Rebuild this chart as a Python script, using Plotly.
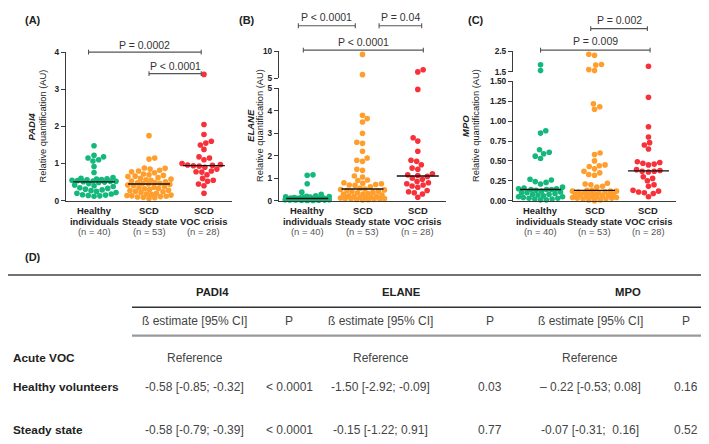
import numpy as np
import plotly.graph_objects as go

W, H = 709, 444
FONT = "Arial, Liberation Sans, Helvetica, sans-serif"

# ---------------- data ----------------
group_line1 = ["Healthy", "SCD", "SCD"]
group_line2 = ["individuals", "Steady state", "VOC crisis"]
group_n = [40, 53, 28]
colors = ["#14B87C", "#FF9E2C", "#F7303A"]

padi4_healthy = [1.48, 1.22, 1.18, 1.15, 1.10, 1.07, 0.92, 0.76, 0.62, 0.60,
                 0.59, 0.58, 0.57, 0.56, 0.55, 0.54, 0.53, 0.52, 0.52, 0.51,
                 0.50, 0.49, 0.46, 0.42, 0.40, 0.38, 0.35, 0.33, 0.31, 0.29,
                 0.27, 0.25, 0.22, 0.20, 0.18, 0.16, 0.15, 0.14, 0.13, 0.12]
padi4_steady = [1.75, 1.15, 1.12, 0.88, 0.87, 0.85, 0.82, 0.80, 0.78, 0.75,
                0.72, 0.70, 0.68, 0.66, 0.65, 0.62, 0.60, 0.58, 0.56, 0.55,
                0.53, 0.51, 0.49, 0.48, 0.47, 0.46, 0.45, 0.44, 0.42, 0.40,
                0.38, 0.36, 0.35, 0.33, 0.32, 0.30, 0.28, 0.27, 0.25, 0.24,
                0.22, 0.20, 0.18, 0.17, 0.15, 0.14, 0.13, 0.12, 0.11, 0.10,
                0.09, 0.08, 0.06]
padi4_voc = [3.40, 2.05, 1.78, 1.60, 1.55, 1.50, 1.38, 1.18, 1.15, 1.10,
             1.00, 0.97, 0.96, 0.95, 0.94, 0.93, 0.90, 0.85, 0.80, 0.78,
             0.77, 0.70, 0.60, 0.55, 0.52, 0.45, 0.40, 0.20]

elane_healthy = [1.15, 1.13, 0.75, 0.38, 0.28, 0.22, 0.20, 0.18, 0.17, 0.16,
                 0.15, 0.14, 0.13, 0.12, 0.12, 0.11, 0.11, 0.10, 0.10, 0.10,
                 0.09, 0.09, 0.08, 0.08, 0.07, 0.07, 0.06, 0.06, 0.05, 0.05,
                 0.05, 0.04, 0.04, 0.03, 0.03, 0.03, 0.02, 0.02, 0.01, 0.01]
elane_steady = [9.40, 5.70, 3.80, 3.65, 3.50, 3.00, 2.60, 2.55, 2.20, 1.90,
                1.80, 1.75, 1.40, 1.35, 1.10, 1.05, 0.92, 0.90, 0.80, 0.77,
                0.75, 0.72, 0.70, 0.68, 0.62, 0.55, 0.52, 0.50, 0.48, 0.45,
                0.42, 0.40, 0.38, 0.35, 0.32, 0.30, 0.28, 0.25, 0.22, 0.20,
                0.18, 0.16, 0.15, 0.13, 0.12, 0.10, 0.09, 0.08, 0.07, 0.06,
                0.05, 0.04, 0.03]
elane_voc = [6.60, 6.20, 4.95, 2.80, 2.65, 2.20, 1.80, 1.75, 1.60, 1.45,
             1.40, 1.20, 1.15, 1.12, 1.08, 1.00, 0.95, 0.85, 0.80, 0.75,
             0.70, 0.65, 0.60, 0.45, 0.40, 0.35, 0.30, 0.15]

mpo_healthy = [1.83, 1.55, 0.88, 0.85, 0.64, 0.61, 0.59, 0.56, 0.53, 0.27,
               0.26, 0.24, 0.23, 0.21, 0.17, 0.16, 0.15, 0.15, 0.14, 0.14,
               0.14, 0.13, 0.12, 0.11, 0.10, 0.10, 0.09, 0.08, 0.08, 0.07,
               0.06, 0.05, 0.05, 0.04, 0.03, 0.03, 0.02, 0.02, 0.01, 0.01]
mpo_steady = [2.35, 2.30, 1.85, 1.82, 1.60, 1.55, 1.22, 1.18, 1.15, 0.60,
              0.58, 0.50, 0.45, 0.44, 0.43, 0.40, 0.37, 0.35, 0.33, 0.32,
              0.22, 0.21, 0.20, 0.18, 0.17, 0.13, 0.13, 0.12, 0.12, 0.12,
              0.11, 0.11, 0.10, 0.10, 0.09, 0.09, 0.08, 0.08, 0.07, 0.07,
              0.06, 0.06, 0.05, 0.05, 0.04, 0.04, 0.03, 0.03, 0.02, 0.02,
              0.01, 0.01, 0.00]
mpo_voc = [1.76, 1.30, 0.93, 0.80, 0.73, 0.70, 0.65, 0.49, 0.48, 0.47,
           0.46, 0.45, 0.39, 0.38, 0.37, 0.37, 0.36, 0.30, 0.28, 0.25,
           0.20, 0.18, 0.13, 0.12, 0.11, 0.10, 0.09, 0.05]

padi4_ticks = [0, 1, 2, 3, 4]
elane_ticks_low = [0, 1, 2, 3, 4, 5]
elane_ticks_high = [5, 10]
mpo_ticks_low = [0.00, 0.25, 0.50, 0.75, 1.00, 1.25, 1.50]
mpo_ticks_high = [1.5, 2.5]

# brackets: (x_from, x_to, label) in category units
padi4_brackets = [(-0.1, 1.95, "P = 0.0002"), (1.0, 1.95, "P < 0.0001")]
elane_brackets = [(-0.16, 0.87, "P < 0.0001"), (1.3, 2.07, "P = 0.04"),
                  (-0.07, 2.1, "P < 0.0001")]
mpo_brackets = [(0.93, 1.98, "P = 0.002"), (0.0, 2.03, "P = 0.009")]

# table
tbl_genes = ["PADI4", "ELANE", "MPO"]
tbl_sub = ["ß estimate [95% CI]", "P"]
tbl_rows = ["Acute VOC", "Healthy volunteers", "Steady state"]
tbl_est_healthy = ["-0.58 [-0.85; -0.32]", "-1.50 [-2.92; -0.09]", "\u2013 0.22 [-0.53; 0.08]"]
tbl_p_healthy = ["< 0.0001", "0.03", "0.16"]
tbl_est_steady = ["-0.58 [-0.79; -0.39]", "-0.15 [-1.22; 0.91]", "-0.07 [-0.31;  0.16]"]
tbl_p_steady = ["< 0.0001", "0.77", "0.52"]
tbl_ref = "Reference"

# ---------------- layout geometry (pixels) ----------------
def xp(px):
    return px / W


def yp(py):
    return 1 - py / H


XR = [-0.51, 2.51]
panels = [
    dict(key="A", x0=58, x1=224, segs=[(0, 4, 192, 40)],
         data=[padi4_healthy, padi4_steady, padi4_voc], gene="PADI4",
         ticks=[padi4_ticks], fmt=["d"], brackets=padi4_brackets,
         bpos=[(40, 33), (62, 54)], gx=23, rx=35, lx=25),
    dict(key="B", x0=271, x1=438, segs=[(0, 5, 192, 77), (5, 10, 67, 39)],
         data=[elane_healthy, elane_steady, elane_voc], gene="ELANE",
         ticks=[elane_ticks_low, elane_ticks_high], fmt=["d", "d"], brackets=elane_brackets,
         bpos=[(13, 4), (13, 4), (38, 30)], gx=243, rx=252, lx=239),
    dict(key="C", x0=505, x1=668, segs=[(0, 1.5, 192, 70), (1.5, 2.5, 60, 39)],
         data=[mpo_healthy, mpo_steady, mpo_voc], gene="MPO",
         ticks=[mpo_ticks_low, mpo_ticks_high], fmt=[".2f", ".1f"], brackets=mpo_brackets,
         bpos=[(16, 7), (38, 29)], gx=458, rx=468, lx=468),
]


def to_px(v, segs):
    for i, (lo, hi, pb, pt) in enumerate(segs):
        if v <= hi or i == len(segs) - 1:
            return pb - (v - lo) / (hi - lo) * (pb - pt), i
    return None


def swarm(ypix, diam, maxhw):
    """beeswarm offsets (pixels), limited to +-maxhw; overlaps allowed when crowded"""
    n = len(ypix)
    order = np.argsort(ypix, kind="stable")
    px_l, py_l = [], []
    off = np.zeros(n)
    flip = 1
    grid = np.arange(-maxhw, maxhw + 0.01, 0.5)
    for idx in order:
        y = ypix[idx]
        iv = []
        near = []
        for a, b in zip(px_l, py_l):
            dy = abs(y - b)
            if dy < 2 * diam:
                near.append((a, b))
            if dy < diam:
                dx = np.sqrt(diam ** 2 - dy ** 2)
                iv.append((a - dx, a + dx))
        cands = [0.0] + [q for ab in iv for q in ab]
        cands = [c for c in cands if abs(c) <= maxhw + 1e-6]
        cands.sort(key=lambda c: (round(abs(c), 6), flip * c))
        chosen = None
        for c in cands:
            if all(not (a + 1e-6 < c < b - 1e-6) for a, b in iv):
                chosen = c
                break
        if chosen is None:
            best, bestd = 0.0, -1
            for c in grid:
                d = min(np.hypot(c - a, y - b) for a, b in near)
                score = d - 0.02 * abs(c)
                if score > bestd:
                    bestd, best = score, c
            chosen = best
        off[idx] = chosen
        px_l.append(chosen)
        py_l.append(y)
        flip = -flip
    return off


fig = go.Figure()
layout = dict(width=W, height=H, margin=dict(l=0, r=0, t=0, b=0),
              paper_bgcolor="white", plot_bgcolor="white", showlegend=False,
              font=dict(family=FONT, color="#222"))
shapes, annos = [], []
AXC = "#3a3a3a"
ycount = 0

for pi, p in enumerate(panels):
    xi = pi + 1
    xname = "xaxis" if xi == 1 else f"xaxis{xi}"
    xref = "x" if xi == 1 else f"x{xi}"
    ppu = (p["x1"] - p["x0"]) / (XR[1] - XR[0])
    yrefs = []
    for si, (lo, hi, pb, pt) in enumerate(p["segs"]):
        ycount += 1
        yname = "yaxis" if ycount == 1 else f"yaxis{ycount}"
        yref = "y" if ycount == 1 else f"y{ycount}"
        yrefs.append(yref)
        tv = p["ticks"][si]
        layout[yname] = dict(domain=[yp(pb), yp(pt)], range=[lo, hi], anchor=xref,
                             tickvals=tv, ticktext=[format(v, p["fmt"][si]) for v in tv],
                             ticks="outside", ticklen=4, tickwidth=1.3, tickcolor=AXC,
                             showline=True, linecolor=AXC, linewidth=1.3,
                             showgrid=False, zeroline=False,
                             tickfont=dict(size=8.3, weight="bold", color="#222"))
    layout[xname] = dict(domain=[xp(p["x0"]), xp(p["x1"])], range=XR, anchor=yrefs[0],
                         showticklabels=False, ticks="", showline=True, linecolor=AXC,
                         linewidth=1.3, showgrid=False, zeroline=False)
    # category labels
    for gi in range(3):
        for txt_, py_, bold, col in ((group_line1[gi], 202, True, "#222"),
                                     (group_line2[gi], 213, True, "#222"),
                                     (f"(n = {group_n[gi]})", 223.5, False, "#555")):
            annos.append(dict(text=f"<b>{txt_}</b>" if bold else txt_, xref=xref, yref="paper",
                              x=gi, y=yp(py_), showarrow=False, xanchor="center",
                              yanchor="middle", font=dict(size=9.4, color=col)))
    # points
    for gi, vals in enumerate(p["data"]):
        vals = np.array(vals, dtype=float)
        pix = [to_px(v, p["segs"]) for v in vals]
        ypx = np.array([-q[0] for q in pix])
        seg = np.array([q[1] for q in pix])
        off = swarm(ypx, 5.8, 22.0)
        xs = gi + off / ppu
        for si in range(len(p["segs"])):
            m = seg == si
            if m.any():
                fig.add_trace(go.Scatter(x=xs[m], y=vals[m], mode="markers",
                                         xaxis=xref, yaxis=yrefs[si], cliponaxis=False,
                                         marker=dict(size=5.6, color=colors[gi], line=dict(width=0)),
                                         hoverinfo="skip"))
        med = float(np.median(vals))
        fig.add_trace(go.Scatter(x=[gi - 0.38, gi + 0.38], y=[med, med], mode="lines",
                                 xaxis=xref, yaxis=yrefs[0], cliponaxis=False,
                                 line=dict(color="#111", width=1.4), hoverinfo="skip"))
    # brackets
    for (a, b, lab), (by, ty) in zip(p["brackets"], p["bpos"]):
        shapes.append(dict(type="line", xref=xref, yref="paper", x0=a, x1=b, y0=yp(by), y1=yp(by),
                           line=dict(color="#555", width=1.1)))
        for xx in (a, b):
            shapes.append(dict(type="line", xref=xref, yref="paper", x0=xx, x1=xx,
                               y0=yp(by - 2.5), y1=yp(by + 2.5), line=dict(color="#555", width=1.1)))
        annos.append(dict(text=lab, xref=xref, yref="paper", x=(a + b) / 2, y=yp(ty),
                          showarrow=False, xanchor="center", yanchor="middle",
                          font=dict(size=10.5, color="#333")))
    # axis titles
    ymid = (p["segs"][0][2] + p["segs"][-1][3]) / 2
    annos.append(dict(text=f"<b><i>{p['gene']}</i></b>", xref="paper", yref="paper",
                      x=xp(p["gx"]), y=yp(ymid), textangle=-90, showarrow=False,
                      xanchor="center", yanchor="middle", font=dict(size=9.5, color="#222")))
    annos.append(dict(text="Relative quantification (AU)", xref="paper", yref="paper",
                      x=xp(p["rx"]), y=yp(ymid), textangle=-90, showarrow=False,
                      xanchor="center", yanchor="middle", font=dict(size=9.3, color="#222")))
    annos.append(dict(text=f"<b>({p['key']})</b>", xref="paper", yref="paper",
                      x=xp(p["lx"]), y=yp(7), showarrow=False, xanchor="center",
                      yanchor="middle", font=dict(size=11, color="#222")))

# ---------------- table (D) ----------------
annos.append(dict(text="<b>(D)</b>", xref="paper", yref="paper", x=xp(25), y=yp(250),
                  showarrow=False, xanchor="center", yanchor="middle",
                  font=dict(size=11, color="#222")))
shapes.append(dict(type="line", xref="paper", yref="paper", x0=0, x1=1, y0=yp(268), y1=yp(268),
                   line=dict(color="#444", width=1.6)))
shapes.append(dict(type="line", xref="paper", yref="paper", x0=xp(124), x1=1, y0=yp(301), y1=yp(301),
                   line=dict(color="#333", width=1.6)))
shapes.append(dict(type="line", xref="paper", yref="paper", x0=xp(124), x1=1, y0=yp(330), y1=yp(330),
                   line=dict(color="#999", width=2.2)))
shapes.append(dict(type="line", xref="paper", yref="paper", x0=0, x1=1, y0=yp(442), y1=yp(442),
                   line=dict(color="#777", width=2.2)))

gene_x = [204, 393, 620]
est_x = [187, 373, 582]
p_x = [281, 482, 678]
row_y = [353, 383, 427]


def txt(s, x, y, size=11.0, color="#333", bold=False, anchor="center"):
    annos.append(dict(text=f"<b>{s}</b>" if bold else s, xref="paper", yref="paper",
                      x=xp(x), y=yp(y), showarrow=False, xanchor=anchor, yanchor="middle",
                      font=dict(size=size, color=color)))


for gi, g in enumerate(tbl_genes):
    txt(g, gene_x[gi], 285, size=11.3, color="#222", bold=True)
    txt(tbl_sub[0], est_x[gi], 315, size=12, color="#444")
    txt(tbl_sub[1], p_x[gi], 315, size=12, color="#444")
    txt(tbl_ref, est_x[gi], row_y[0], size=12, color="#444")
    txt(tbl_est_healthy[gi], est_x[gi], row_y[1], size=12, color="#444")
    txt(tbl_p_healthy[gi], p_x[gi], row_y[1], size=12, color="#444")
    txt(tbl_est_steady[gi], est_x[gi], row_y[2], size=12, color="#444")
    txt(tbl_p_steady[gi], p_x[gi], row_y[2], size=12, color="#444")

for ri, r in enumerate(tbl_rows):
    txt(r, 3, row_y[ri], size=11.8, color="#222", bold=True, anchor="left")

layout["shapes"] = shapes
layout["annotations"] = annos
fig.update_layout(**layout)
fig.write_html("out.html")
